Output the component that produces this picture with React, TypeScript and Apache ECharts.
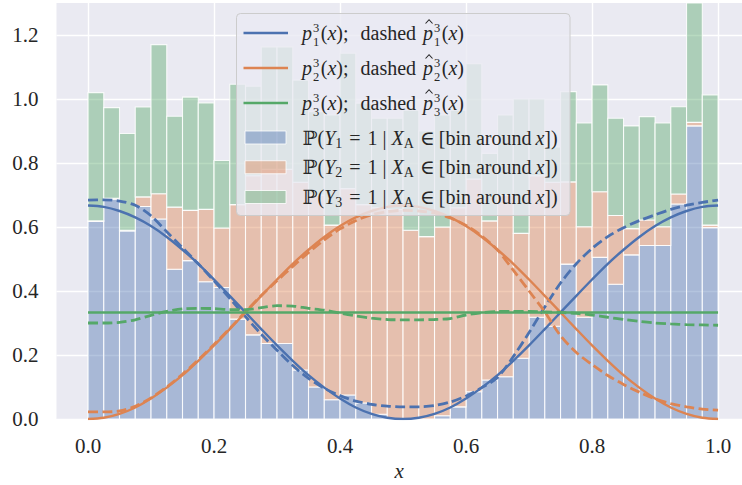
import React, { useEffect, useRef } from 'react';
import * as echarts from 'echarts';

// ---------- data ----------
const binLeft = [
  0.000, 0.025, 0.050, 0.075, 0.100, 0.125, 0.150, 0.175, 0.200, 0.225,
  0.250, 0.275, 0.300, 0.325, 0.350, 0.375, 0.400, 0.425, 0.450, 0.475,
  0.500, 0.525, 0.550, 0.575, 0.600, 0.625, 0.650, 0.675, 0.700, 0.725,
  0.750, 0.775, 0.800, 0.825, 0.850, 0.875, 0.900, 0.925, 0.950, 0.975,
];
const binWidth = 0.025;

// cumulative tops of the stacked bars
const blueTop = [
  0.617, 0.687, 0.588, 0.664, 0.625, 0.468, 0.495, 0.429, 0.411, 0.312,
  0.263, 0.236, 0.236, 0.153, 0.100, 0.060, 0.075, 0.050, 0.015, 0.000,
  0.000, 0.000, 0.010, 0.038, 0.085, 0.122, 0.132, 0.190, 0.318, 0.290,
  0.484, 0.318, 0.505, 0.421, 0.513, 0.542, 0.542, 0.672, 0.916, 0.598,
];
const orangeTop = [
  0.619, 0.690, 0.590, 0.694, 0.704, 0.662, 0.652, 0.655, 0.597, 0.670,
  0.760, 0.780, 0.780, 0.740, 0.700, 0.606, 0.720, 0.670, 0.660, 0.655,
  0.590, 0.570, 0.600, 0.660, 0.750, 0.619, 0.700, 0.580, 0.760, 0.740,
  0.741, 0.601, 0.710, 0.636, 0.595, 0.622, 0.601, 0.703, 0.927, 0.606,
];
const greenTop = [
  1.020, 0.973, 0.892, 0.975, 1.170, 0.946, 1.006, 0.988, 0.808, 1.046,
  1.040, 1.163, 1.163, 1.059, 0.960, 0.950, 1.143, 0.987, 0.940, 0.940,
  0.965, 0.900, 0.950, 0.965, 1.110, 0.830, 0.950, 1.000, 1.000, 0.850,
  1.023, 0.925, 1.044, 0.940, 0.916, 0.945, 0.925, 0.976, 1.360, 1.013,
];

const curveX = [
  0, 0.025, 0.05, 0.075, 0.1, 0.125, 0.15, 0.175, 0.2, 0.225,
  0.25, 0.275, 0.3, 0.325, 0.35, 0.375, 0.4, 0.425, 0.45, 0.475,
  0.5, 0.525, 0.55, 0.575, 0.6, 0.625, 0.65, 0.675, 0.7, 0.725,
  0.75, 0.775, 0.8, 0.825, 0.85, 0.875, 0.9, 0.925, 0.95, 0.975, 1,
];
const p1 = [
  0.667, 0.663, 0.650, 0.630, 0.603, 0.569, 0.529, 0.485, 0.436, 0.385,
  0.333, 0.281, 0.230, 0.182, 0.137, 0.098, 0.064, 0.036, 0.016, 0.004,
  0.000, 0.004, 0.016, 0.036, 0.064, 0.098, 0.137, 0.182, 0.230, 0.281,
  0.333, 0.385, 0.436, 0.485, 0.529, 0.569, 0.603, 0.630, 0.650, 0.663, 0.667,
];
const p2 = [
  0.000, 0.004, 0.016, 0.036, 0.064, 0.098, 0.137, 0.182, 0.230, 0.281,
  0.333, 0.385, 0.436, 0.485, 0.529, 0.569, 0.603, 0.630, 0.650, 0.663,
  0.667, 0.663, 0.650, 0.630, 0.603, 0.569, 0.529, 0.485, 0.436, 0.385,
  0.333, 0.281, 0.230, 0.182, 0.137, 0.098, 0.064, 0.036, 0.016, 0.004, 0.000,
];
const p3X = [0, 1];
const p3 = [0.333, 0.333];
const p1Hat = [
  0.684, 0.685, 0.681, 0.668, 0.635, 0.585, 0.535, 0.485, 0.432, 0.377,
  0.320, 0.265, 0.215, 0.167, 0.127, 0.096, 0.073, 0.056, 0.046, 0.040,
  0.038, 0.038, 0.042, 0.053, 0.072, 0.098, 0.130, 0.195, 0.270, 0.350,
  0.425, 0.485, 0.533, 0.570, 0.598, 0.620, 0.638, 0.655, 0.668, 0.677, 0.684,
];
const p2Hat = [
  0.022, 0.022, 0.025, 0.040, 0.066, 0.100, 0.140, 0.185, 0.233, 0.283,
  0.335, 0.386, 0.432, 0.477, 0.520, 0.560, 0.594, 0.620, 0.638, 0.648,
  0.652, 0.650, 0.643, 0.628, 0.605, 0.572, 0.528, 0.465, 0.400, 0.335,
  0.260, 0.208, 0.170, 0.136, 0.108, 0.084, 0.063, 0.048, 0.038, 0.031, 0.028,
];
const p3Hat = [
  0.300, 0.300, 0.302, 0.310, 0.324, 0.336, 0.344, 0.346, 0.345, 0.342,
  0.342, 0.348, 0.354, 0.353, 0.346, 0.340, 0.331, 0.322, 0.315, 0.311,
  0.310, 0.310, 0.311, 0.314, 0.325, 0.332, 0.336, 0.336, 0.336, 0.335,
  0.333, 0.330, 0.325, 0.318, 0.311, 0.305, 0.300, 0.297, 0.295, 0.294, 0.293,
];

const xTicks = [0, 0.2, 0.4, 0.6, 0.8, 1.0];
const yTicks = [0, 0.2, 0.4, 0.6, 0.8, 1.0, 1.2];
const classIds = ['1', '2', '3'];

// ---------- styling ----------
const COL = { blue: '#4c72b0', orange: '#dd8452', green: '#55a868' };
const FILL = {
  blue: 'rgba(76,114,176,0.42)',
  orange: 'rgba(221,132,82,0.42)',
  green: 'rgba(85,168,104,0.42)',
};
const TXT = '#262626';
const SERIF = 'Liberation Serif, Times New Roman, DejaVu Serif, serif';
const BG = '#eaeaf2';

let measureCtx: CanvasRenderingContext2D | null = null;
function measure(t: string, size: number, italic?: boolean) {
  if (!measureCtx) measureCtx = document.createElement('canvas').getContext('2d');
  measureCtx!.font = `${italic ? 'italic ' : ''}${size}px ${SERIF}`;
  return measureCtx!.measureText(t).width;
}

function txt(t: string, x: number, y: number, size: number, italic?: boolean) {
  return {
    type: 'text',
    x,
    y,
    z: 101,
    silent: true,
    style: {
      text: t,
      fill: TXT,
      fontSize: size,
      fontFamily: SERIF,
      fontStyle: italic ? 'italic' : 'normal',
      lineHeight: size,
      align: 'left',
      verticalAlign: 'middle',
    },
  };
}

type Tok = { t?: string; it?: boolean; gap?: number; sup?: string; sub?: string; subDy?: number; hat?: boolean };

function buildRow(toks: Tok[], x0: number, yMid: number, F: number, els: any[]) {
  let x = x0;
  for (const tk of toks) {
    x += tk.gap ?? 0;
    if (tk.sup !== undefined && tk.sub !== undefined) {
      const s = 12.5;
      els.push(txt(tk.sup, x, yMid - 4.8, s));
      els.push(txt(tk.sub, x, yMid + 9.2, s));
      x += Math.max(measure(tk.sup, s), measure(tk.sub, s)) + 0.5;
    } else if (tk.sub !== undefined) {
      const s = 14;
      els.push(txt(tk.sub, x, yMid + (tk.subDy ?? F * 0.3), s));
      x += measure(tk.sub, s);
    } else if (tk.t) {
      els.push(txt(tk.t, x, yMid, F, tk.it));
      const w = measure(tk.t, F, tk.it);
      if (tk.hat) {
        const cx = x + w * 0.6;
        const cy = yMid - F * 0.55;
        els.push({
          type: 'polyline',
          z: 101,
          silent: true,
          shape: { points: [[cx - 3.5, cy + 2], [cx, cy - 1.8], [cx + 3.5, cy + 2]] },
          style: { stroke: TXT, lineWidth: 1.1, fill: null },
        });
      }
      x += w;
    }
  }
}

function buildLegend() {
  const els: any[] = [];
  const F = 20;
  els.push({
    type: 'rect',
    z: 100,
    silent: true,
    shape: { x: 236.5, y: 13.5, width: 333.5, height: 202, r: 4 },
    style: { fill: 'rgba(234,234,242,0.8)', stroke: '#cccccc', lineWidth: 1 },
  });
  const lineCols = [COL.blue, COL.orange, COL.green];
  const fills = [FILL.blue, FILL.orange, FILL.green];
  classIds.forEach((k, i) => {
    const y = 33 + 35 * i;
    els.push({
      type: 'line',
      z: 101,
      silent: true,
      shape: { x1: 243.5, y1: y, x2: 288, y2: y },
      style: { stroke: lineCols[i], lineWidth: 2.5 },
    });
    buildRow(
      [
        { t: 'p', it: true },
        { sup: '3', sub: k, gap: 1 },
        { t: '(', gap: 1 },
        { t: 'x', it: true },
        { t: ');' },
        { t: 'dashed', gap: 12 },
        { t: 'p', it: true, gap: 7, hat: true },
        { sup: '3', sub: k, gap: 1 },
        { t: '(', gap: 1 },
        { t: 'x', it: true },
        { t: ')' },
      ],
      302,
      y - 0.5,
      F,
      els,
    );
  });
  classIds.forEach((k, i) => {
    const y = 137.5 + 29.75 * i;
    els.push({
      type: 'rect',
      z: 101,
      silent: true,
      shape: { x: 245, y: y - 6.5, width: 41, height: 13 },
      style: { fill: fills[i], stroke: 'rgba(255,255,255,0.8)', lineWidth: 1 },
    });
    buildRow(
      [
        { t: 'ℙ' },
        { t: '(' },
        { t: 'Y', it: true },
        { sub: k, subDy: F * 0.28 },
        { t: '=', gap: 7 },
        { t: '1', gap: 7 },
        { t: '|', gap: 5 },
        { t: 'X', it: true, gap: 5 },
        { sub: 'A', subDy: F * 0.28 },
        { t: '∈', gap: 6 },
        { t: '[bin around', gap: 4 },
        { t: 'x', it: true, gap: 4 },
        { t: '])' },
      ],
      302.5,
      y,
      F,
      els,
    );
  });
  return els;
}

function barSeries(name: string, fill: string, lows: number[], highs: number[]) {
  const data = binLeft.map((x0, i) => [x0, x0 + binWidth, lows[i], highs[i]]);
  return {
    type: 'custom',
    name,
    silent: true,
    z: 2,
    data,
    encode: { x: [0, 1], y: [2, 3] },
    renderItem: (params: any, api: any) => {
      const a = api.coord([api.value(0), api.value(3)]);
      const b = api.coord([api.value(1), api.value(2)]);
      const cs = params.coordSys;
      const shape = echarts.graphic.clipRectByRect(
        { x: a[0], y: a[1], width: b[0] - a[0], height: b[1] - a[1] },
        { x: cs.x, y: cs.y, width: cs.width, height: cs.height },
      );
      if (!shape) return null;
      return {
        type: 'rect',
        shape,
        style: { fill, stroke: 'rgba(255,255,255,0.85)', lineWidth: 1.1 },
      };
    },
  };
}

function lineSeries(xs: number[], ys: number[], color: string, dashed: boolean) {
  return {
    type: 'line',
    silent: true,
    z: 3,
    showSymbol: false,
    smooth: 0.3,
    clip: true,
    data: xs.map((x, i) => [x, ys[i]]),
    lineStyle: dashed
      ? { color, width: 2.8, type: [10, 4.3], cap: 'butt' }
      : { color, width: 2.4 },
    emphasis: { disabled: true },
  };
}

export default function App() {
  const ref = useRef<HTMLDivElement>(null);
  useEffect(() => {
    const chart = echarts.init(ref.current!, null, { renderer: 'svg' });
    const zeros = binLeft.map(() => 0);
    const axisLabelBase = {
      color: TXT,
      fontFamily: SERIF,
      fontSize: 21,
      formatter: (v: number) => v.toFixed(1),
    };
    chart.setOption({
      animation: false,
      backgroundColor: '#ffffff',
      grid: {
        left: 56.5,
        right: 0,
        top: 3,
        bottom: 66,
        show: true,
        backgroundColor: BG,
        borderWidth: 0,
        containLabel: false,
        outerBoundsMode: 'none',
      },
      xAxis: {
        type: 'value',
        min: -0.05,
        max: 1.038,
        axisLine: { show: false },
        axisTick: { show: false, customValues: xTicks },
        axisLabel: { ...axisLabelBase, margin: 16, customValues: xTicks },
        splitLine: { show: true, lineStyle: { color: '#ffffff', width: 1.4 } },
        name: 'x',
        nameLocation: 'middle',
        nameGap: 38,
        nameTextStyle: { color: TXT, fontFamily: SERIF, fontSize: 21, fontStyle: 'italic' },
      },
      yAxis: {
        type: 'value',
        min: 0,
        max: 1.3,
        axisLine: { show: false },
        axisTick: { show: false, customValues: yTicks },
        axisLabel: { ...axisLabelBase, margin: 18, customValues: yTicks },
        splitLine: { show: true, lineStyle: { color: '#ffffff', width: 1.4 } },
      },
      series: [
        barSeries('P1', FILL.blue, zeros, blueTop),
        barSeries('P2', FILL.orange, blueTop, orangeTop),
        barSeries('P3', FILL.green, orangeTop, greenTop),
        lineSeries(curveX, p1, COL.blue, false),
        lineSeries(curveX, p1Hat, COL.blue, true),
        lineSeries(curveX, p2, COL.orange, false),
        lineSeries(curveX, p2Hat, COL.orange, true),
        lineSeries(p3X, p3, COL.green, false),
        lineSeries(curveX, p3Hat, COL.green, true),
      ],
      graphic: { elements: buildLegend() },
    });
    return () => chart.dispose();
  }, []);
  return (
    <div
      ref={ref}
      style={{ position: 'absolute', left: 0, top: 0, width: 742, height: 485 }}
    />
  );
}
